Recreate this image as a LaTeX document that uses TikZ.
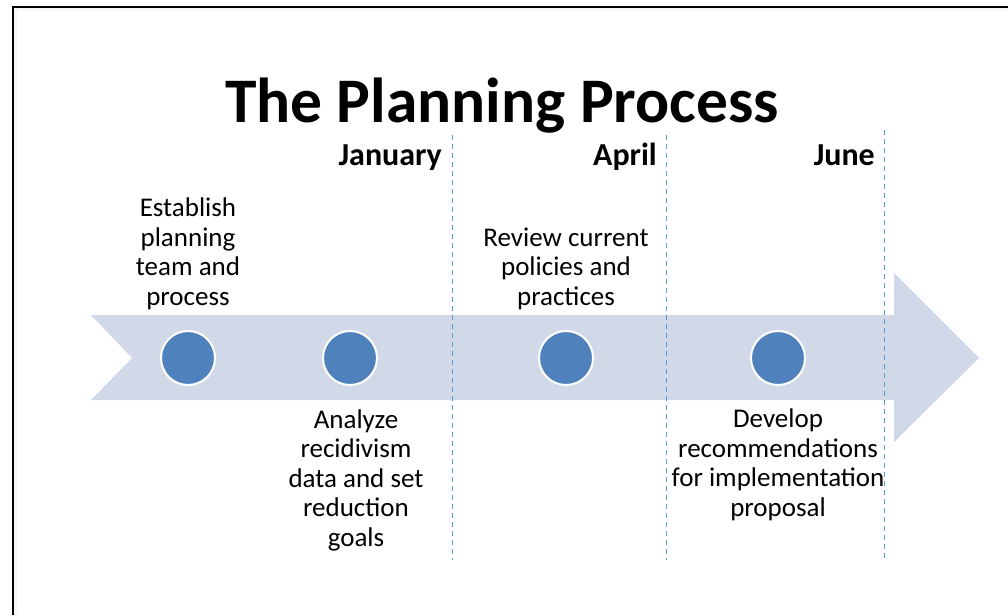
\documentclass[tikz,border=0pt]{standalone}
\usepackage{fontspec}
\setmainfont{Carlito}
\definecolor{arrowfill}{HTML}{D1D8E8}
\definecolor{dotfill}{HTML}{4F81BD}
\definecolor{dashblue}{HTML}{5B9BD5}
\begin{document}
\begin{tikzpicture}[x=1pt,y=-1pt,
  dot/.style={circle,fill=dotfill,draw=white,line width=2pt,minimum size=54pt,inner sep=0pt},
  body/.style={align=center,font=\fontsize{27}{29.5}\selectfont,inner sep=0pt,anchor=base},
  month/.style={font=\fontsize{32}{36}\selectfont\bfseries,inner sep=0pt,anchor=base east},
  divider/.style={dashblue,line width=1pt,dash pattern=on 5pt off 4pt}]
\useasboundingbox (0,0) rectangle (1008,615);
% frame with soft shadow
\fill[black!4] (14,8) rectangle (1008,11);
\fill[black!4] (14,8) rectangle (17,615);
\draw[line width=2.5pt] (13,615) -- (13,7) -- (1008,7);
% big arrow
\fill[arrowfill] (91,315) -- (894,315) -- (894,273) -- (979,358) -- (894,442) -- (894,400) -- (91,400) -- (132,358) -- cycle;
% dividers
\coordinate (d1t) at (452,135); \coordinate (d1b) at (452,560);
\coordinate (d2t) at (666,135); \coordinate (d2b) at (666,560);
\coordinate (d3t) at (884,130); \coordinate (d3b) at (884,560);
\draw[divider] (d1t) -- (d1b);
\draw[divider] (d2t) -- (d2b);
\draw[divider] (d3t) -- (d3b);
% dots
\node[dot] (p1) at (188,358) {};
\node[dot] (p2) at (350,358) {};
\node[dot] (p3) at (566,358) {};
\node[dot] (p4) at (778,358) {};
% title
\node[font=\fontsize{63.5}{70}\selectfont\bfseries,inner sep=0pt,anchor=base] (title) at (502,122) {The Planning Process};
% months
\node[month] (jan) at (442,165) {January};
\node[month] (apr) at (657,165) {April};
\node[month] (jun) at (875,165) {June};
% step texts (anchor = baseline of last line)
\node[body] (t1) at (188,305) {Establish\\planning\\team and\\process};
\node[body] (t3) at (566,305) {Review current\\policies and\\practices};
\node[body] (t2) at (356,546) {Analyze\\recidivism\\data and set\\reduction\\goals};
\node[body] (t4) at (778,516) {Develop\\recommendations\\for implementation\\proposal};
\end{tikzpicture}
\end{document}
